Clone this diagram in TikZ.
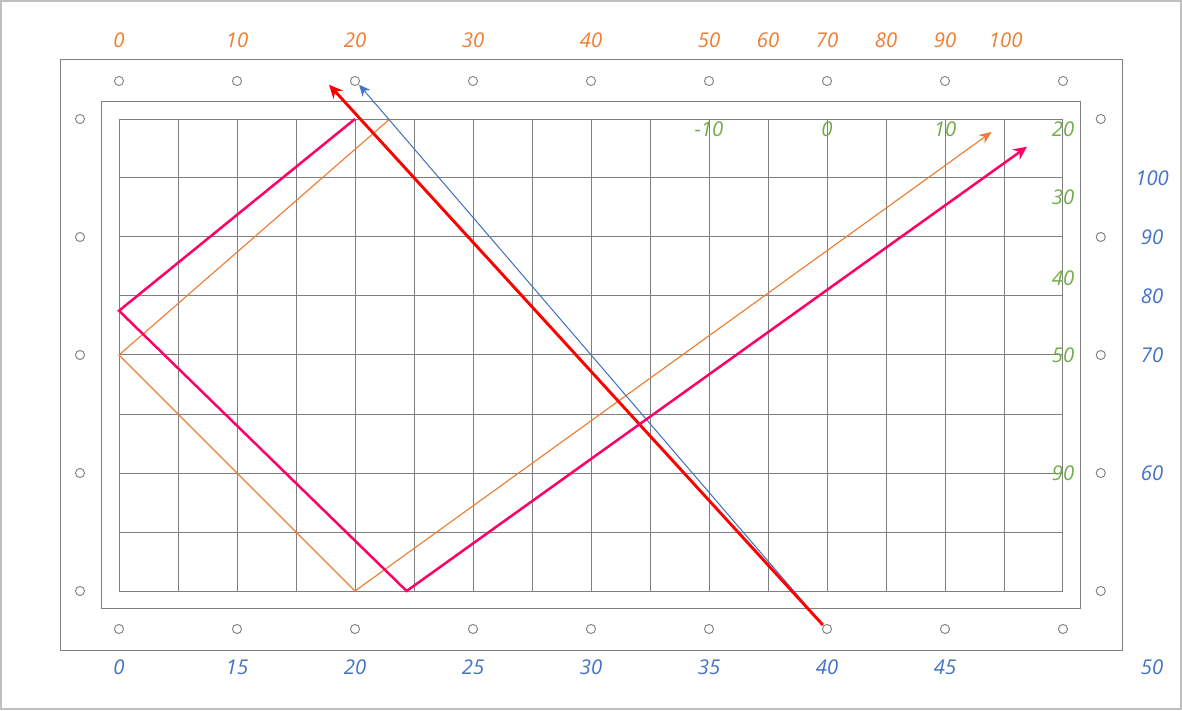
\documentclass[tikz,border=0pt]{standalone}
\usepackage{fontspec}
\setmainfont{Open Sans}
\usetikzlibrary{arrows.meta}

\definecolor{scaleorange}{HTML}{ED7D31}
\definecolor{scaleblue}{HTML}{4472C4}
\definecolor{scalegreen}{HTML}{70AD47}
\definecolor{rimgray}{HTML}{7F7F7F}
\definecolor{pagegray}{HTML}{BFBFBF}
\definecolor{rayred}{HTML}{FF0000}
\definecolor{raypink}{HTML}{FF0066}

\tikzset{
  num/.style={font=\fontsize{9.8}{11}\selectfont\itshape, inner sep=0pt},
  hole/.style={rimgray, line width=0.45pt},
}

\begin{document}
\begin{tikzpicture}[x=1cm,y=1cm]
            \useasboundingbox (-2.017,-2.017) rectangle (18.017,10.017);
            \draw[pagegray, line width=1.1pt] (-1.998,-1.998) rectangle (17.998,9.998);

            % frames and grid
            \draw[rimgray, line width=0.48pt] (-1,-1) rectangle (17,9);
            \draw[rimgray, line width=0.48pt] (-0.3,-0.3) rectangle (16.3,8.3);
            \draw[rimgray, line width=0.48pt] (0,0) grid (16,8);

            % holes
            \foreach \x in {0,2,...,16} {
                \draw[hole] (\x,8.644) circle (0.077);
                \draw[hole] (\x,-0.644) circle (0.077);
            }
            \foreach \y in {0,2,...,8} {
                \draw[hole] (-0.661,\y) circle (0.077);
                \draw[hole] (16.64,\y) circle (0.077);
            }

            \coordinate (O1) at (4.59,8);
            \coordinate (O2) at (0,4);
            \coordinate (O3) at (4,0);
            \coordinate (O4) at (14.79,7.78);

            \coordinate (P1) at (4,8);
            \coordinate (P2) at (0,4.75);
            \coordinate (P3) at (4.875,0);
            \coordinate (P4) at (15.39,7.53);

            \coordinate (S) at (11.93,-0.576);
            \coordinate (R) at (3.56,8.58);
            \coordinate (B) at (4.07,8.58);

            \draw[scaleorange, line width=0.55pt, -{Stealth[length=6pt,width=5pt]}] (O1)--(O2)--(O3)--(O4);
            \draw[scaleblue, line width=0.5pt, -{Stealth[length=5.5pt,width=5pt]}] (S)--(B);
            \draw[rayred, line width=1.4pt, -{Stealth[length=6.5pt,width=6pt]}] (S)--(R);
            \draw[raypink, line width=1.2pt, -{Stealth[length=6.5pt,width=6pt]}] (P1)--(P2)--(P3)--(P4);

            % top scale
            \node[num, scaleorange] (t0) at (0,9.34) {0};
            \node[num, scaleorange] (t10) at (2,9.34) {10};
            \node[num, scaleorange] (t20) at (4,9.34) {20};
            \node[num, scaleorange] (t30) at (6,9.34) {30};
            \node[num, scaleorange] (t40) at (8,9.34) {40};
            \node[num, scaleorange] (t50) at (10,9.34) {50};
            \node[num, scaleorange] (t60) at (11,9.34) {60};
            \node[num, scaleorange] (t70) at (12,9.34) {70};
            \node[num, scaleorange] (t80) at (13,9.34) {80};
            \node[num, scaleorange] (t90) at (14,9.34) {90};
            \node[num, scaleorange] (t100) at (15.03,9.34) {100};

            % bottom scale
            \node[num, scaleblue] (b0) at (0,-1.3) {0};
            \node[num, scaleblue] (b15) at (2,-1.3) {15};
            \node[num, scaleblue] (b20) at (4,-1.3) {20};
            \node[num, scaleblue] (b25) at (6,-1.3) {25};
            \node[num, scaleblue] (b30) at (8,-1.3) {30};
            \node[num, scaleblue] (b35) at (10,-1.3) {35};
            \node[num, scaleblue] (b40) at (12,-1.3) {40};
            \node[num, scaleblue] (b45) at (14,-1.3) {45};
            \node[num, scaleblue] (b50) at (17.51,-1.29) {50};

            % right scale
            \node[num, scaleblue] (r100) at (17.51,7) {100};
            \node[num, scaleblue] (r90) at (17.51,6) {90};
            \node[num, scaleblue] (r80) at (17.51,5) {80};
            \node[num, scaleblue] (r70) at (17.51,4) {70};
            \node[num, scaleblue] (r60) at (17.51,2) {60};

            % inner scale
            \node[num, scalegreen] (gm10) at (10,7.83) {-10};
            \node[num, scalegreen] (g0) at (12,7.83) {0};
            \node[num, scalegreen] (g10) at (14,7.83) {10};
            \node[num, scalegreen] (g20) at (16,7.83) {20};
            \node[num, scalegreen] (g30) at (16,6.68) {30};
            \node[num, scalegreen] (g40) at (16,5.3) {40};
            \node[num, scalegreen] (g50) at (16,4) {50};
            \node[num, scalegreen] (g90) at (16,2) {90};
        \end{tikzpicture}
\end{document}
